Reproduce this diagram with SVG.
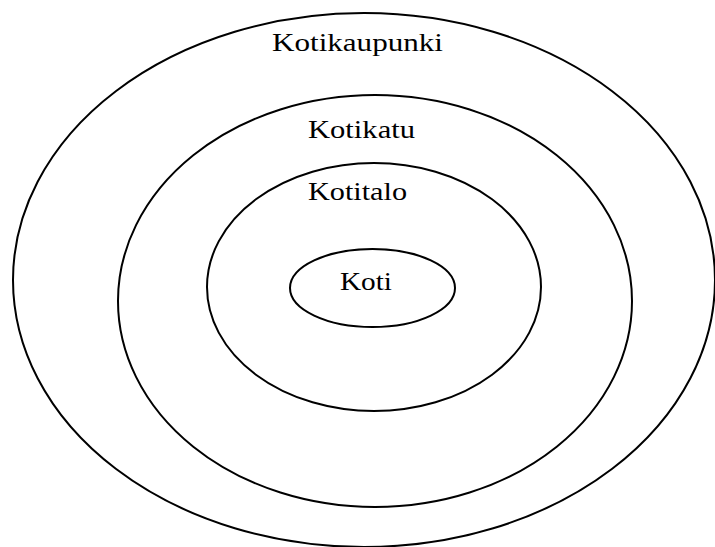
<svg xmlns="http://www.w3.org/2000/svg" width="715" height="547" viewBox="0 0 715 547">
<style>
.ring{fill:none;stroke:#000;stroke-width:2}
.lbl{font-family:"Liberation Serif","DejaVu Serif",serif;font-size:26px;fill:#000}
</style>
<rect width="715" height="547" fill="#fff"/>
<g id="kotikaupunki">
<ellipse class="ring" cx="364" cy="280" rx="351" ry="267"/>
<text class="lbl" x="272" y="51" textLength="171" lengthAdjust="spacingAndGlyphs">Kotikaupunki</text>
</g>
<g id="kotikatu">
<ellipse class="ring" cx="375" cy="301" rx="257" ry="206"/>
<text class="lbl" x="308" y="138" textLength="107" lengthAdjust="spacingAndGlyphs">Kotikatu</text>
</g>
<g id="kotitalo">
<ellipse class="ring" cx="374" cy="287" rx="167" ry="124"/>
<text class="lbl" x="308" y="200" textLength="99" lengthAdjust="spacingAndGlyphs">Kotitalo</text>
</g>
<g id="koti">
<ellipse class="ring" cx="372.5" cy="288" rx="82.5" ry="39"/>
<text class="lbl" x="340" y="290" textLength="52" lengthAdjust="spacingAndGlyphs">Koti</text>
</g>
<g id="connectors"/>
</svg>
